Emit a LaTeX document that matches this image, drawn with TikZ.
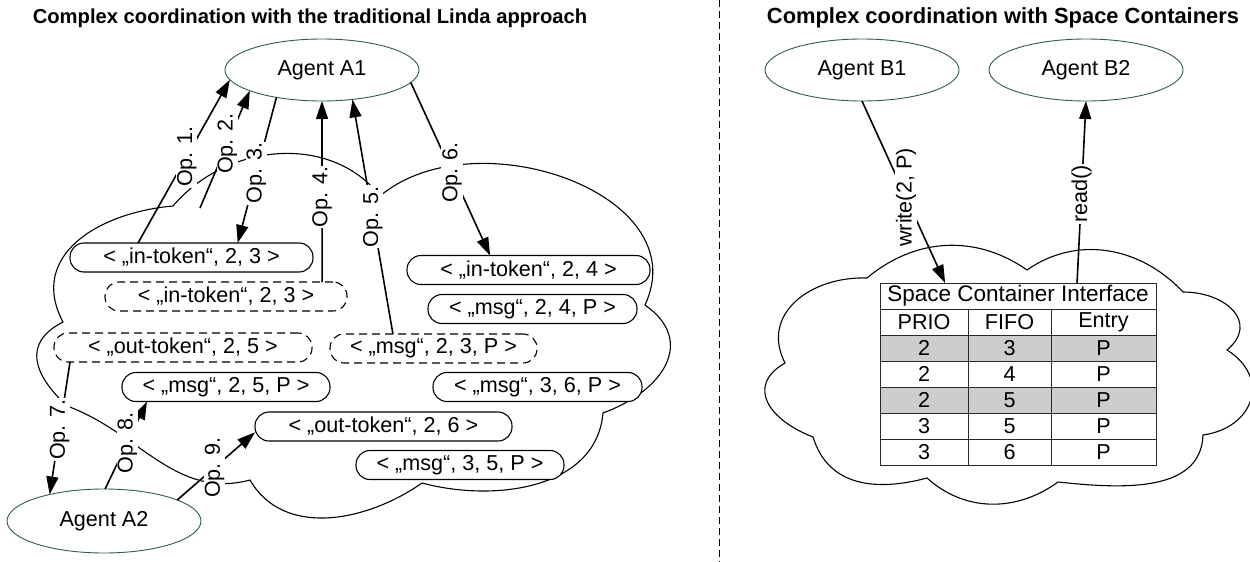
\documentclass[tikz,border=0pt]{standalone}
\usepackage{fontspec}
\setmainfont{Liberation Sans}
\usetikzlibrary{shapes.geometric,arrows.meta,calc}
\definecolor{agentgreen}{RGB}{47,95,63}
\definecolor{tblline}{RGB}{40,40,40}
\definecolor{shade}{RGB}{205,205,205}
\begin{document}
\begin{tikzpicture}[x=1pt,y=1pt,
  font=\fontsize{21.6}{25}\selectfont,
  agent/.style={ellipse, draw=agentgreen, line width=0.9pt, minimum width=194pt, minimum height=62pt, inner sep=0pt, outer sep=0pt, fill=white},
  tuple/.style={draw, line width=1.1pt, rounded corners=14pt, minimum height=29pt, inner sep=0pt, outer sep=0pt, fill=white},
  ghost/.style={tuple, dash pattern=on 8pt off 5pt},
  arr/.style={line width=1.6pt, -{Triangle[length=18pt,width=12pt]}},
  oplab/.style={fill=white, inner sep=1pt, rotate=90},
  cloudline/.style={line width=1.1pt},
  titletext/.style={font=\fontsize{20.2}{25}\selectfont\bfseries, inner sep=0pt},
  cellA/.style={draw=tblline, line width=1pt, inner sep=0pt, outer sep=0pt, minimum height=26pt, anchor=north west}
]
\useasboundingbox (0,0) rectangle (1250,-562);

% titles
\node[titletext] (t1) at (310,-18) {Complex coordination with the traditional Linda approach};
\node[titletext, font=\fontsize{21.9}{25}\selectfont\bfseries] (t2) at (1003,-18) {Complex coordination with Space Containers};

% divider
\draw[line width=0.8pt, dash pattern=on 7pt off 4pt] (719,0) -- (719,-562);

% left cloud
\draw[cloudline] (173,-206) to[out=50,in=128] (380,-196)
 to[out=40,in=65,looseness=1.1] (645,-305)
 to[out=-35,in=20,looseness=1.4] (603,-413)
 to[out=-95,in=-15] (422,-483)
 to[out=-145,in=-60] (250,-480)
 to[out=-165,in=-20] (67,-406)
 to[out=137,in=-153,looseness=1.4] (63,-322)
 to[out=118,in=185,looseness=1.2] (173,-206);

% right cloud
\draw[cloudline] (867,-278) to[out=40,in=145] (1027,-270)
 to[out=35,in=133] (1183,-292)
 to[out=0,in=40,looseness=1.5] (1227,-350)
 to[out=-32,in=8,looseness=1.5] (1203,-435)
 to[out=-92,in=-6] (1058,-482)
 to[out=-144,in=-42] (927,-478)
 to[out=-165,in=-73,looseness=1.1] (813,-437)
 to[out=159,in=210,looseness=1.5] (785,-363)
 to[out=117,in=178,looseness=1.2] (867,-278);

% tuples
\node[tuple, minimum width=243pt] (b1) at (191.5,-257.5) {< „in-token“, 2, 3 >};
\node[ghost, minimum width=242pt] (b2) at (226,-296.5) {< „in-token“, 2, 3 >};
\node[ghost, minimum width=258pt] (b3) at (183,-347.5) {< „out-token“, 2, 5 >};
\node[tuple, minimum width=208pt] (b4) at (226,-387) {< „msg“, 2, 5, P >};
\node[tuple, minimum width=257pt] (b5) at (383.5,-426.5) {< „out-token“, 2, 6 >};
\node[tuple, minimum width=208pt] (b6) at (460,-465) {< „msg“, 3, 5, P >};
\node[tuple, minimum width=243pt] (b7) at (528.5,-270) {< „in-token“, 2, 4 >};
\node[tuple, minimum width=209pt] (b8) at (532.5,-309) {< „msg“, 2, 4, P >};
\node[ghost, minimum width=207pt] (b9) at (433.5,-348.5) {< „msg“, 2, 3, P >};
\node[tuple, minimum width=209pt] (b10) at (537.5,-387) {< „msg“, 3, 6, P >};

% table
\node[cellA, fill=white, minimum width=276pt, font=\fontsize{22.5}{25}\selectfont] (hdr) at (880,-283) {Space Container Interface};
\foreach \y/\a/\b/\c/\fc [count=\k] in {309/PRIO/FIFO/Entry/white, 335/2/3/P/shade, 361/2/4/P/white, 387/2/5/P/shade, 413/3/5/P/white, 439/3/6/P/white} {
  \node[cellA, fill=\fc, minimum width=88pt] (r\k-a) at (880,-\y) {\a};
  \node[cellA, fill=\fc, minimum width=83pt] (r\k-b) at (968,-\y) {\b};
  \node[cellA, fill=\fc, minimum width=105pt] (r\k-c) at (1051,-\y) {\c};
}

% agents
\node[agent] (A1) at (322,-70) {Agent A1};
\node[agent, minimum height=64pt] (A2) at (104,-521) {Agent A2};
\node[agent] (B1) at (862,-70) {Agent B1};
\node[agent] (B2) at (1086,-70) {Agent B2};

% connectors
\coordinate (o2) at (200,-208);
\draw[arr] ($(b1.north west)!0.28!(b1.north east)$) -- node[oplab,pos=0.53]{Op. 1.} (A1.186);
\draw[arr] (o2) -- node[oplab,pos=0.55]{Op. 2.} (A1.196);
\draw[arr] (A1.211) -- node[oplab,pos=0.52]{Op. 3.} ($(b1.north west)!0.69!(b1.north east)$);
\draw[arr] ($(b2.north west)!0.897!(b2.north east)$) -- node[oplab,pos=0.47]{Op. 4.} (A1.south);
\draw[arr] ($(b9.north west)!0.304!(b9.north east)$) -- node[oplab,pos=0.5]{Op. 5.} (A1.-44);
\draw[arr] (A1.-8.6) -- node[oplab,pos=0.52]{Op. 6.} ($(b7.north west)!0.342!(b7.north east)$);
\draw[arr] ($(b3.south west)!0.062!(b3.south east)$) -- node[oplab,pos=0.51]{Op. 7.} (A2.154);
\draw[arr] (A2.88) -- node[oplab,pos=0.53]{Op. 8.} ($(b4.south west)!0.12!(b4.south east)$);
\draw[arr] (A2.16.5) -- node[oplab,pos=0.48]{Op. 9.} ($(b5.south west)!0.3!(b5.north west)$);

\draw[arr] (B1.south) -- node[oplab,pos=0.53]{write(2, P)} ($(hdr.north west)!0.236!(hdr.north east)$);
\draw[arr] ($(hdr.north west)!0.714!(hdr.north east)$) -- node[oplab,pos=0.49]{read()} (B2.south);
\end{tikzpicture}
\end{document}
